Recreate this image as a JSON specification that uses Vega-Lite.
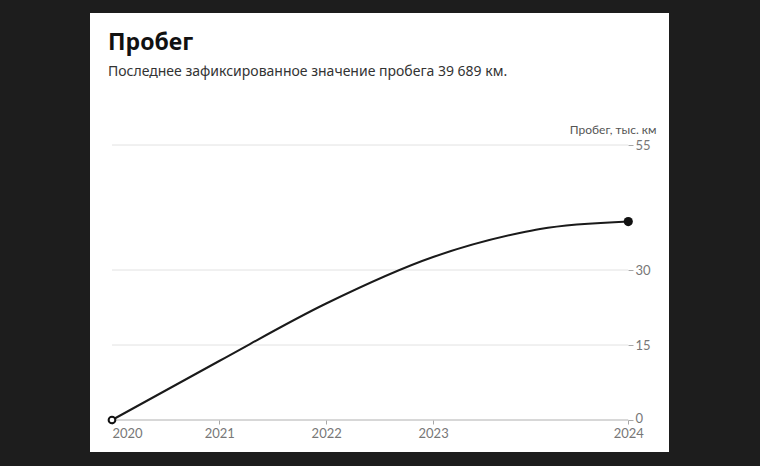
{
  "$schema": "https://vega.github.io/schema/vega-lite/v6.json",
  "width": 579,
  "height": 439,
  "autosize": {"type": "none"},
  "padding": {"left": 90, "top": 13, "right": 91, "bottom": 14},
  "background": "#1d1d1d",
  "config": {"view": {"fill": "white", "stroke": null}, "font": "Lato"},
  "title": {
    "text": "Пробег",
    "subtitle": "Последнее зафиксированное значение пробега 39 689 км.",
    "anchor": "start",
    "frame": "group",
    "orient": "top",
    "offset": -66,
    "dx": 18,
    "font": "Noto Sans",
    "fontSize": 23,
    "fontWeight": "bold",
    "color": "#111111",
    "subtitleFont": "Noto Sans",
    "subtitleFontSize": 14,
    "subtitleColor": "#333333",
    "subtitlePadding": 10
  },
  "datasets": {
    "main": [
      {"date": "2020-01-01", "km": 0},
      {"date": "2021-01-01", "km": 11.8},
      {"date": "2022-01-01", "km": 23.3},
      {"date": "2023-01-01", "km": 32.6},
      {"date": "2023-10-23", "km": 37.4},
      {"date": "2024-01-01", "km": 38.2},
      {"date": "2024-10-28", "km": 39.689}
    ],
    "grid": [
      {"v": 0},
      {"v": 15},
      {"v": 30},
      {"v": 55}
    ]
  },
  "layer": [
    {
      "data": {"name": "grid"},
      "mark": {"type": "rule", "strokeWidth": 1},
      "encoding": {
        "y": {
          "field": "v",
          "type": "quantitative",
          "scale": {"domain": [-6.4, 81.4], "nice": false, "zero": false},
          "axis": {
            "orient": "right",
            "values": [0, 15, 30, 55],
            "offset": -41,
            "domain": false,
            "grid": false,
            "tickSize": 5,
            "tickColor": "#a8a8a8",
            "labelColor": "#777777",
            "labelFontSize": 13,
            "labelPadding": 2,
            "labelBaseline": {"condition": {"test": "datum.value == 0", "value": "alphabetic"}, "value": "middle"},
            "labelOffset": {"condition": {"test": "datum.value == 0", "value": 2}, "value": 0},
            "title": "Пробег, тыс. км",
            "titleAngle": 0,
            "titleAlign": "right",
            "titleBaseline": "alphabetic",
            "titleX": 28,
            "titleY": 120,
            "titleFontWeight": "normal",
            "titleFontSize": 12,
            "titleColor": "#555555",
            "titleFont": "Lato"
          }
        },
        "x": {"datum": {"year": 2020, "month": 1, "date": 1}, "type": "temporal"},
        "x2": {"datum": {"year": 2024, "month": 10, "date": 28}},
        "stroke": {"condition": {"test": "datum.v == 0", "value": "#b0b0b0"}, "value": "#e2e2e2"}
      }
    },
    {
      "data": {"name": "main"},
      "mark": {"type": "line", "interpolate": "monotone", "color": "#1a1a1a", "strokeWidth": 2},
      "encoding": {
        "x": {
          "field": "date",
          "type": "temporal",
          "scale": {"domain": [{"year": 2019, "month": 10, "date": 18}, {"year": 2025, "month": 3, "date": 16}], "nice": false},
          "axis": {
            "values": [
              {"year": 2020, "month": 1, "date": 1},
              {"year": 2021, "month": 1, "date": 1},
              {"year": 2022, "month": 1, "date": 1},
              {"year": 2023, "month": 1, "date": 1},
              {"year": 2024, "month": 10, "date": 28}
            ],
            "format": "%Y",
            "title": null,
            "offset": -32,
            "domain": false,
            "grid": false,
            "ticks": true,
            "tickSize": 4,
            "tickColor": "#a8a8a8",
            "labelColor": "#777777",
            "labelFontSize": 13,
            "labelPadding": 3,
            "labelFlush": false,
            "labelAlign": {"condition": {"test": "datum.index == 0", "value": "left"}, "value": "center"}
          }
        },
        "y": {
          "field": "km",
          "type": "quantitative",
          "axis": {
            "orient": "right",
            "values": [0, 15, 30, 55],
            "offset": -41,
            "domain": false,
            "grid": false,
            "tickSize": 5,
            "tickColor": "#a8a8a8",
            "labelColor": "#777777",
            "labelFontSize": 13,
            "labelPadding": 2,
            "labelBaseline": {"condition": {"test": "datum.value == 0", "value": "alphabetic"}, "value": "middle"},
            "labelOffset": {"condition": {"test": "datum.value == 0", "value": 2}, "value": 0},
            "title": "Пробег, тыс. км",
            "titleAngle": 0,
            "titleAlign": "right",
            "titleBaseline": "alphabetic",
            "titleX": 28,
            "titleY": 120,
            "titleFontWeight": "normal",
            "titleFontSize": 12,
            "titleColor": "#555555",
            "titleFont": "Lato"
          }
        }
      }
    },
    {
      "data": {"name": "main"},
      "transform": [{"filter": "datum.km == 0"}],
      "mark": {"type": "point", "filled": true, "fill": "white", "stroke": "#111111", "strokeWidth": 2, "size": 45, "opacity": 1},
      "encoding": {
        "x": {"field": "date", "type": "temporal"},
        "y": {"field": "km", "type": "quantitative"}
      }
    },
    {
      "data": {"name": "main"},
      "transform": [{"filter": "datum.km > 39.6"}],
      "mark": {"type": "point", "filled": true, "color": "#111111", "size": 85, "opacity": 1},
      "encoding": {
        "x": {"field": "date", "type": "temporal"},
        "y": {"field": "km", "type": "quantitative"}
      }
    }
  ]
}
